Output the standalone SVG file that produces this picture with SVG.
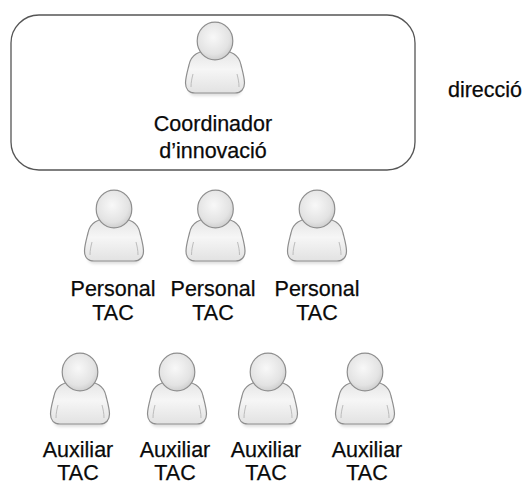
<svg xmlns="http://www.w3.org/2000/svg" width="526" height="485" viewBox="0 0 526 485">
<style>
  .lbl { font-family: "Liberation Sans", Arial, sans-serif; font-size: 21.5px; fill: #0a0a0a; stroke: #0a0a0a; stroke-width: 0.25; text-anchor: middle; }
  .frame { fill: #ffffff; stroke: #555; stroke-width: 1.3; }
  .head { fill: url(#gHead); stroke: #8e8e8e; stroke-width: 1.2; }
  .body { fill: url(#gBody); stroke: #8e8e8e; stroke-width: 1.2; }
  .fold { fill: none; stroke: #bcbcbc; stroke-width: 1; }
  .shadow { fill: #000; opacity: 0.12; }
</style>
<defs>
  <radialGradient id="gHead" cx="0.45" cy="0.4" r="0.65">
    <stop offset="0" stop-color="#f8f8f8"/>
    <stop offset="0.7" stop-color="#e3e3e3"/>
    <stop offset="1" stop-color="#c9c9c9"/>
  </radialGradient>
  <linearGradient id="gBody" x1="0" y1="0" x2="0" y2="1">
    <stop offset="0" stop-color="#e4e4e4"/>
    <stop offset="0.45" stop-color="#f6f6f6"/>
    <stop offset="1" stop-color="#e2e2e2"/>
  </linearGradient>
  <filter id="blur" x="-30%" y="-30%" width="160%" height="160%">
    <feGaussianBlur stdDeviation="1.6"/>
  </filter>
  <symbol id="person" overflow="visible">
    <path class="shadow" filter="url(#blur)" d="M -27,46 C -27,52 -24,55 -19,55 L 19,55 C 24,55 27,52 27,46 Z"/>
    <path class="body" d="M 0,9 C -17,9 -24,14 -26,24 C -28,32 -29.5,37 -29.5,42 C -29.5,48 -26,52 -20,52 L 20,52 C 26,52 29.5,48 29.5,42 C 29.5,37 28,32 26,24 C 24,14 17,9 0,9 Z"/>
    <path class="fold" d="M -22,33 C -23,37 -24,41 -24,46 M 22,33 C 23,37 24,41 24,46"/>
    <ellipse class="head" cx="0" cy="0" rx="17.8" ry="18.8"/>
  </symbol>
</defs>

<g id="connectors"></g>

<g id="direccio">
  <rect class="frame" x="11" y="15" width="404" height="155" rx="28" ry="28"/>
  <text class="lbl" x="485" y="97">direcció</text>
</g>

<g id="coordinador">
  <use href="#person" x="215" y="41"/>
  <text class="lbl" x="213" y="131">Coordinador</text>
  <text class="lbl" x="213" y="158">d’innovació</text>
</g>

<g id="personal1">
  <use href="#person" x="114" y="209"/>
  <text class="lbl" x="113" y="296">Personal</text>
  <text class="lbl" x="113" y="320">TAC</text>
</g>
<g id="personal2">
  <use href="#person" x="215.5" y="209"/>
  <text class="lbl" x="213" y="296">Personal</text>
  <text class="lbl" x="213" y="320">TAC</text>
</g>
<g id="personal3">
  <use href="#person" x="317" y="209"/>
  <text class="lbl" x="317" y="296">Personal</text>
  <text class="lbl" x="317" y="320">TAC</text>
</g>

<g id="auxiliar1">
  <use href="#person" x="80" y="372"/>
  <text class="lbl" x="78" y="457">Auxiliar</text>
  <text class="lbl" x="78" y="480">TAC</text>
</g>
<g id="auxiliar2">
  <use href="#person" x="177" y="372"/>
  <text class="lbl" x="175" y="457">Auxiliar</text>
  <text class="lbl" x="175" y="480">TAC</text>
</g>
<g id="auxiliar3">
  <use href="#person" x="268" y="372"/>
  <text class="lbl" x="266" y="457">Auxiliar</text>
  <text class="lbl" x="266" y="480">TAC</text>
</g>
<g id="auxiliar4">
  <use href="#person" x="365" y="372"/>
  <text class="lbl" x="367" y="457">Auxiliar</text>
  <text class="lbl" x="367" y="480">TAC</text>
</g>
</svg>
